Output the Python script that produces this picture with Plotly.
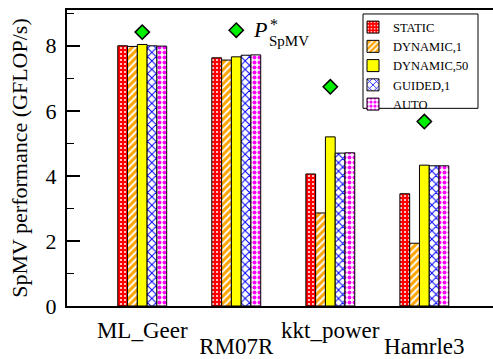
import plotly.graph_objects as go

# Matrices and measured SpMV throughput (GFLOP/s) per OpenMP schedule
categories = ["ML_Geer", "RM07R", "kkt_power", "Hamrle3"]
schedules = ["STATIC", "DYNAMIC,1", "DYNAMIC,50", "GUIDED,1", "AUTO"]
static = [8.00, 7.63, 4.06, 3.45]
dynamic_1 = [7.98, 7.56, 2.86, 1.93]
dynamic_50 = [8.04, 7.66, 5.20, 4.33]
guided_1 = [8.00, 7.71, 4.70, 4.31]
auto = [7.99, 7.72, 4.71, 4.31]
peak_spmv = [8.42, 8.48, 6.74, 5.67]
y_ticks = [0, 2, 4, 6, 8]

series = [static, dynamic_1, dynamic_50, guided_1, auto]
positions = list(range(len(categories)))

W, H = 493, 359
ML, MR, MT, MB = 67, 0, 10, 51
FONT = "Liberation Serif"


def px_x(px):
    return (px - ML) / (W - ML - MR)


def px_y(py):
    return (H - MB - py) / (H - MT - MB)


patterns = [
    dict(shape=".", bgcolor="#ff0000", fgcolor="#ffffff", size=4, solidity=0.2),
    dict(shape="/", bgcolor="#ffa500", fgcolor="#ffffff", size=5, solidity=0.4),
    dict(shape="", bgcolor="#ffff00", fgcolor="#ffff00"),
    dict(shape="x", bgcolor="#ffffff", fgcolor="#0000ff", size=6, solidity=0.3),
    dict(shape=".", bgcolor="#ffffff", fgcolor="#ff00ff", size=5, solidity=0.5),
]
fill_colors = ["#ff0000", "#ffa500", "#ffff00", "#ffffff", "#ffffff"]

fig = go.Figure()
for name, vals, pat, col in zip(schedules, series, patterns, fill_colors):
    fig.add_trace(go.Bar(
        x=positions, y=vals, name=name,
        marker=dict(color=col, pattern=dict(fillmode="replace", **pat),
                    line=dict(color="#000000", width=1)),
    ))

# Peak SpMV estimate per matrix, drawn on the overlaid axis that carries
# the second row of matrix names
fig.add_trace(go.Scatter(
    x=positions, y=peak_spmv, mode="markers", showlegend=False,
    xaxis="x2", yaxis="y", cliponaxis=False,
    marker=dict(symbol="diamond", size=11, color="#00ee00",
                line=dict(color="#000000", width=1.5)),
))

# P*_SpMV label next to the RM07R diamond
label_font = dict(family=FONT, color="#000000")
fig.add_annotation(text="<i>P</i>", xref="paper", yref="paper",
                   x=px_x(260), y=px_y(30), xanchor="center", yanchor="middle",
                   showarrow=False, font=dict(size=22, **label_font))
fig.add_annotation(text="*", xref="paper", yref="paper",
                   x=px_x(268), y=px_y(25), xanchor="left", yanchor="middle",
                   showarrow=False, font=dict(size=16, **label_font))
fig.add_annotation(text="SpMV", xref="paper", yref="paper",
                   x=px_x(267), y=px_y(41), xanchor="left", yanchor="middle",
                   showarrow=False, font=dict(size=15, **label_font))

# Framed legend box; the legend itself is drawn borderless on top of it
fig.add_shape(type="rect", xref="paper", yref="paper", layer="below",
              x0=px_x(363), x1=px_x(478), y0=px_y(109), y1=px_y(14),
              line=dict(color="#000000", width=1), fillcolor="#ffffff")

x_range = [-0.80, 3.73]
y_range = [0, 9.1]
fig.update_layout(
    width=W, height=H,
    margin=dict(l=ML, r=MR, t=MT, b=MB, pad=0),
    paper_bgcolor="#ffffff", plot_bgcolor="#ffffff",
    font=dict(family=FONT, color="#000000"),
    barmode="group", bargap=0.48, bargroupgap=0.0,
    showlegend=True,
    legend=dict(x=px_x(361), y=px_y(12.5), xanchor="left", yanchor="top",
                bgcolor="rgba(0,0,0,0)", borderwidth=0,
                font=dict(family=FONT, size=12.5, color="#000000"),
                itemwidth=30, tracegroupgap=0, indentation=-8),
    xaxis=dict(range=x_range,
               tickmode="array", tickvals=positions[0::2], ticktext=categories[0::2],
               ticks="", showline=True, linecolor="#000000", linewidth=2,
               mirror=True, showgrid=False, zeroline=False,
               tickfont=dict(family=FONT, size=23), ticklabelstandoff=2),
    xaxis2=dict(overlaying="x", range=x_range, anchor="y", side="bottom",
                tickmode="array", tickvals=positions[1::2], ticktext=categories[1::2],
                ticks="", showline=False, showgrid=False, zeroline=False,
                tickfont=dict(family=FONT, size=23), ticklabelstandoff=24),
    yaxis=dict(range=y_range, tickmode="array", tickvals=y_ticks,
               ticks="inside", ticklen=13, tickwidth=2, tickcolor="#000000",
               minor=dict(dtick=1, ticks="inside", ticklen=7, tickwidth=1,
                          tickcolor="#000000", showgrid=False),
               showline=True, linecolor="#000000", linewidth=2, mirror=False,
               showgrid=False, zeroline=False,
               tickfont=dict(family=FONT, size=22), ticklabelstandoff=4,
               title=dict(text="SpMV performance (GFLOP/s)",
                          font=dict(family=FONT, size=22), standoff=12)),
    yaxis2=dict(overlaying="y", side="right", anchor="x", range=y_range,
                tickmode="array", tickvals=y_ticks, showticklabels=False,
                ticks="inside", ticklen=8, tickwidth=2, tickcolor="#000000",
                minor=dict(dtick=1, ticks="inside", ticklen=4, tickwidth=1,
                           tickcolor="#000000", showgrid=False),
                showline=False, showgrid=False, zeroline=False),
)

fig.write_html("out.html")
